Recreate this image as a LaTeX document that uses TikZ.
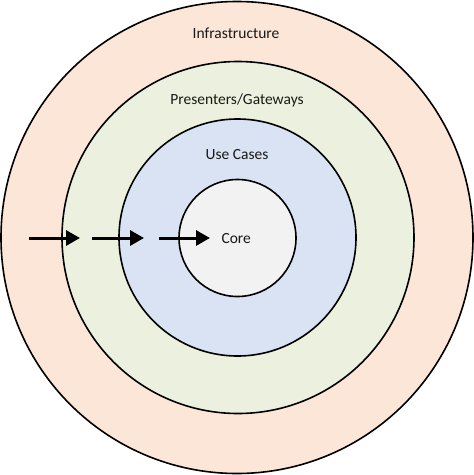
\documentclass[tikz,border=0pt]{standalone}
\usepackage{fontspec}
\setmainfont{Carlito}
\usetikzlibrary{arrows.meta}
\definecolor{infra}{HTML}{FCE6D8}
\definecolor{pres}{HTML}{EBF1DE}
\definecolor{usec}{HTML}{DAE3F3}
\definecolor{corec}{HTML}{F2F2F2}
\begin{document}
\begin{tikzpicture}[x=1pt,y=-1pt,
  ring/.style={draw=black,line width=1.6pt},
  lbl/.style={font=\fontsize{15.5}{18}\selectfont,text=black!90},
  arr/.style={line width=3pt,-{Triangle[length=14pt,width=15pt]}}]
\useasboundingbox (0,0) rectangle (474,475);
\fill[white] (0,0) rectangle (474,475);
\draw[ring,fill=infra] (237,237.5) circle (236);
\draw[ring,fill=pres] (238,237.5) circle (176);
\draw[ring,fill=usec] (237.5,237.5) circle (118.5);
\draw[ring,fill=corec] (237.5,238) circle (58.5);
\node[lbl] (tinfra) at (236,33) {Infrastructure};
\node[lbl] (tpres) at (237,100) {Presenters/Gateways};
\node[lbl] (tuse) at (237,155) {Use Cases};
\node[lbl,anchor=west] (tcore) at (218,239) {Core};
\coordinate (a1s) at (29,238); \coordinate (a1e) at (80,238);
\coordinate (a2s) at (92,238); \coordinate (a2e) at (144,238);
\coordinate (a3s) at (159,238); \coordinate (a3e) at (210,238);
\draw[arr] (a1s) -- (a1e);
\draw[arr] (a2s) -- (a2e);
\draw[arr] (a3s) -- (a3e);
\end{tikzpicture}
\end{document}
